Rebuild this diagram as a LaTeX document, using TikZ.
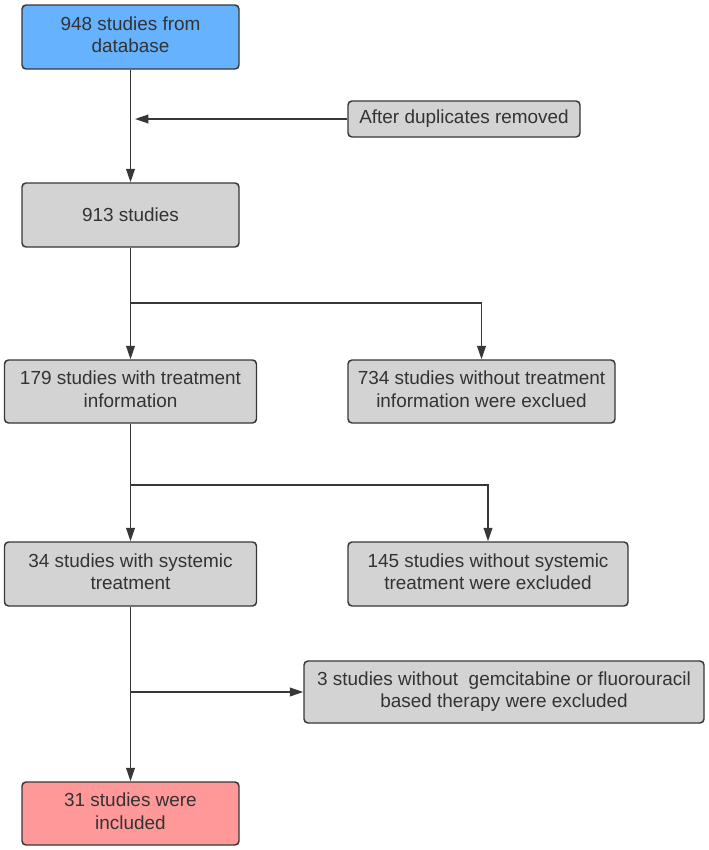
\documentclass[tikz,border=0pt]{standalone}
\usepackage{fontspec}
\setmainfont{Liberation Sans}
\usetikzlibrary{arrows.meta}
\definecolor{dbblue}{RGB}{102,178,255}
\definecolor{inclred}{RGB}{255,153,153}
\definecolor{boxgray}{RGB}{211,211,211}
\definecolor{edgegray}{RGB}{55,55,55}
\definecolor{txtgray}{RGB}{51,51,51}

\begin{document}
\begin{tikzpicture}[x=0.75pt,y=-0.75pt,line width=1.1pt,
  box/.style={rectangle,draw=edgegray,fill=boxgray,rounded corners=3pt,inner sep=0pt,text=txtgray,font=\fontsize{14.2}{16.8}\selectfont},
  arr/.style={-{Triangle[length=10pt,width=6.5pt]},draw=edgegray},
  link/.style={-,draw=edgegray}]
\useasboundingbox (0,0) rectangle (709,850);

\node[box,fill=dbblue, minimum width=162.75pt, minimum height=48pt] (db) at (130.5,37){\begin{tabular}{c}948 studies from\\database\end{tabular}};
\node[box, minimum width=174pt, minimum height=27pt] (dup) at (464,119){After duplicates removed};
\node[box, minimum width=162.75pt, minimum height=48pt] (s913) at (130.5,215){913 studies};
\node[box, minimum width=189pt, minimum height=47.25pt] (s179) at (130.5,391.5){\begin{tabular}{c}179 studies with treatment\\information\end{tabular}};
\node[box, minimum width=200.25pt, minimum height=47.25pt] (s734) at (481.5,391.5){\begin{tabular}{c}734 studies without treatment\\information were exclued\end{tabular}};
\node[box, minimum width=189pt, minimum height=48pt] (s34) at (130.5,574){\begin{tabular}{c}34 studies with systemic\\treatment\end{tabular}};
\node[box, minimum width=210pt, minimum height=48pt] (s145) at (488,574){\begin{tabular}{c}145 studies without systemic\\treatment were excluded\end{tabular}};
\node[box, minimum width=300pt, minimum height=46.5pt] (s3) at (504,692){\begin{tabular}{c}3 studies without \ gemcitabine or fluorouracil\\based therapy were excluded\end{tabular}};
\node[box,fill=inclred, minimum width=162.75pt, minimum height=47.25pt] (s31) at (130.5,813.5){\begin{tabular}{c}31 studies were\\included\end{tabular}};

\coordinate (m0) at (135,119);
\coordinate (b1) at (130.5,303);
\coordinate (b2) at (130.5,485);
\coordinate (b3) at (130.5,692);

\draw[arr] (db) to (s913);
\draw[arr] (dup) to (m0);
\draw[arr] (s913) to (s179);
\draw[arr] (b1) -| (s734.north);
\draw[arr] (s179) to (s34);
\draw[arr] (b2) -| (s145.north);
\draw[arr] (s34) to (s31);
\draw[arr] (b3) to (s3.west);

\end{tikzpicture}
\end{document}
